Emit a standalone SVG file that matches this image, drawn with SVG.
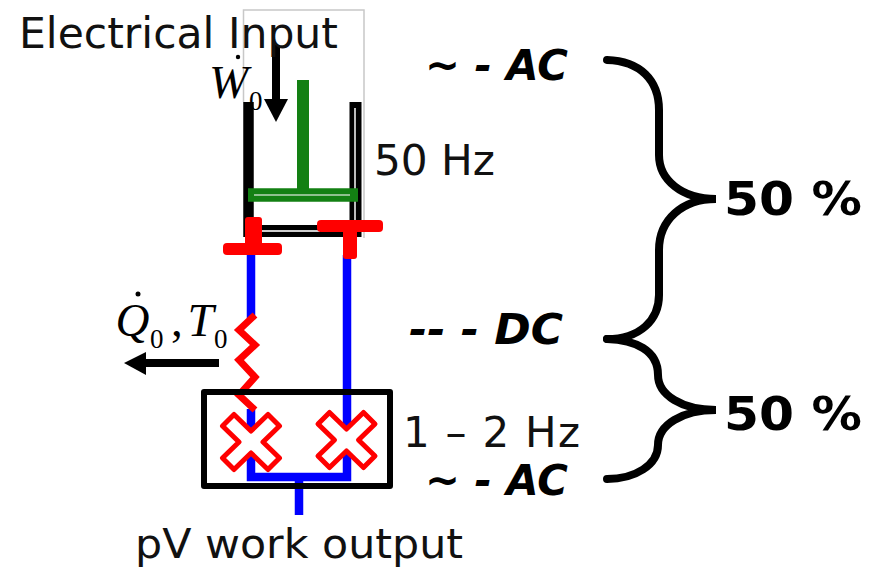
<svg xmlns="http://www.w3.org/2000/svg" width="879" height="568" viewBox="0 0 879 568">
<style>
.t{font-family:"DejaVu Sans",Verdana,sans-serif;font-size:42px;fill:#111}
.b{font-family:"DejaVu Sans",Verdana,sans-serif;font-size:42px;font-weight:bold;font-style:italic;fill:#000}
.p{font-family:"DejaVu Sans",Verdana,sans-serif;font-size:46px;font-weight:bold;fill:#000}
.m{font-family:"Liberation Serif",serif;font-size:47px;font-style:italic;fill:#000}
.s{font-size:27px;font-style:normal}
.br{fill:none;stroke:#000;stroke-width:8;stroke-linecap:round}
.x{fill:#fff;stroke:#f00;stroke-width:5;stroke-linejoin:round}
.r{fill:#f00}
</style>
<defs>
<path id="cross" d="M0-11L-17-27.500L-28.500-16L-12 0L-28.500 16L-17 27.500L0 11L17 27.500L28.500 16L12 0L28.500-16L17-27.500Z"/>
</defs>
<rect width="879" height="568" fill="#fff"/>
<g id="cylinder">
<path d="M243.500 102V10H364V238" fill="none" stroke="#c8c8c8" stroke-width="1.500"/>
<path d="M248.500 102V237" fill="none" stroke="#000" stroke-width="10.500"/>
<path d="M355.500 102V237" fill="none" stroke="#000" stroke-width="12"/>
<path d="M355 108V232" fill="none" stroke="#bbb" stroke-width="2"/>
<path d="M250 231H360" fill="none" stroke="#000" stroke-width="12"/>
<path d="M262 231H320" fill="none" stroke="#ccc" stroke-width="2"/>
</g>
<g id="piston">
<path d="M303 80V192" fill="none" stroke="#138013" stroke-width="12"/>
<path d="M248 195H358" fill="none" stroke="#138013" stroke-width="13.500"/>
<path d="M254 195H350" fill="none" stroke="#8fc08f" stroke-width="2"/>
</g>
<g id="connectors" fill="none">
<path d="M251 250V318M347 255V440M251 409V477H347V440M299 477V515" stroke="#00f" stroke-width="8.500"/>
<path d="M255 315L239 330L255 345L239 360L255 377L239 395L255 410" stroke="#f00" stroke-width="7"/>
<path d="M276 45V102" stroke="#000" stroke-width="8"/>
<path d="M264 99H288L276 122Z" fill="#000"/>
<path d="M219 363H146" stroke="#000" stroke-width="8"/>
<path d="M146 352V375L124 363Z" fill="#000"/>
</g>
<g id="valve-left">
<rect class="r" x="245" y="217" width="17" height="36" rx="3"/>
<rect class="r" x="223" y="243" width="59" height="12" rx="4"/>
</g>
<g id="valve-right">
<rect class="r" x="317" y="220" width="66" height="12" rx="4"/>
<rect class="r" x="343" y="222" width="14" height="37" rx="3"/>
</g>
<g id="regenerator-box">
<rect x="204" y="392" width="186" height="94" fill="none" stroke="#000" stroke-width="6" stroke-linejoin="round"/>
</g>
<g id="piston-left">
<use href="#cross" class="x" x="251" y="442"/>
</g>
<g id="piston-right">
<use href="#cross" class="x" x="346.500" y="440"/>
</g>
<g id="labels">
<text class="t" x="19" y="48" textLength="319" lengthAdjust="spacingAndGlyphs">Electrical Input</text>
<text class="t" x="374" y="175" textLength="121" lengthAdjust="spacingAndGlyphs">50 Hz</text>
<text class="t" x="403" y="447" textLength="177" lengthAdjust="spacing">1 – 2 Hz</text>
<text class="t" x="135" y="558" style="font-size:41px" textLength="328" lengthAdjust="spacingAndGlyphs">pV work output</text>
<text class="m" x="209" y="98">W<tspan class="s" x="249" y="110">0</tspan></text>
<circle cx="238" cy="57" r="2.200" fill="#000"/>
<text class="m" x="115.500" y="336">Q<tspan class="s" x="150" y="348">0</tspan><tspan style="font-style:normal" x="171" y="336">,</tspan><tspan x="187.500" y="336">T</tspan><tspan class="s" x="214" y="348">0</tspan></text>
<circle cx="138" cy="294" r="2.500" fill="#000"/>
</g>
<g id="brackets">
<path class="br" d="M607 60C640 61 659 80 659 110V155C659 180 682 199 716 199C682 199 659 220 659 250V295C659 320 640 339 607 339"/>
<path class="br" d="M607 339C635 340 658 350 658 375C658 395 682 410 716 410C682 410 658 425 658 445C658 465 635 479 607 479"/>
</g>
<g id="annotations">
<text class="b" x="425" y="80" textLength="143" lengthAdjust="spacingAndGlyphs">~ - AC</text>
<text class="b" x="409" y="344" textLength="154" lengthAdjust="spacingAndGlyphs">-- - DC</text>
<text class="b" x="425" y="495" textLength="143" lengthAdjust="spacingAndGlyphs">~ - AC</text>
<text class="p" x="724" y="215" textLength="138" lengthAdjust="spacingAndGlyphs">50 %</text>
<text class="p" x="724" y="430" textLength="138" lengthAdjust="spacingAndGlyphs">50 %</text>
</g>
</svg>
